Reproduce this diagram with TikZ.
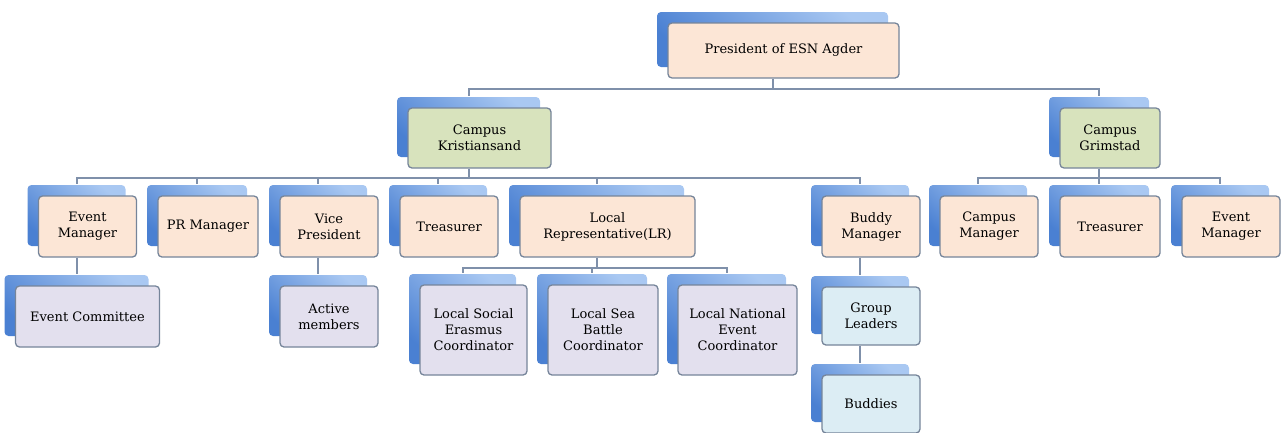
\documentclass[tikz,border=0pt]{standalone}
\usepackage{fontspec}
\setmainfont{DejaVu Serif}
\usetikzlibrary{shadows}

\definecolor{peach}{HTML}{FCE6D6}
\definecolor{sage}{HTML}{D8E3BD}
\definecolor{lilac}{HTML}{E3E0EE}
\definecolor{icy}{HTML}{DCEDF4}
\definecolor{rim}{HTML}{76859A}
\definecolor{wirecol}{HTML}{7F90AA}
\definecolor{backlight}{HTML}{A9C8F2}
\definecolor{backdark}{HTML}{4A80D2}

\tikzset{
  role/.style={draw=rim, line width=1.3pt, rounded corners=4pt, fill=peach,
    minimum width=98pt, minimum height=61pt, inner sep=0pt, align=center,
    font=\fontsize{13}{16}\selectfont,
    general shadow={shadow xshift=-11pt, shadow yshift=11pt,
      top color=backlight, bottom color=backdark, shading angle=-40}},
  campus/.style={role, fill=sage, minimum width=143pt, minimum height=60pt},
  team/.style={role, fill=lilac},
  buddy/.style={role, fill=icy, minimum height=58pt},
  wire/.style={draw=wirecol, line width=2pt},
}

\begin{document}
\begin{tikzpicture}[x=1pt,y=-1pt]
\useasboundingbox (0,0) rectangle (1287,432);

% top
\node[role, minimum width=231pt, minimum height=55pt] (pres) at (783.5,50.5) {President of ESN Agder};
\node[campus] (kri) at (479.5,138) {Campus\\Kristiansand};
\node[campus, minimum width=100pt] (gri) at (1110,138) {Campus\\Grimstad};

% Kristiansand
\node[role] (evm) at (87.5,226.5) {Event\\Manager};
\node[role, minimum width=100pt] (prm) at (208,226.5) {PR Manager};
\node[role] (vp) at (329,226.5) {Vice\\President};
\node[role] (tre) at (449,226.5) {Treasurer};
\node[role, minimum width=175pt] (lr) at (607.5,226.5) {Local\\Representative(LR)};
\node[role] (bud) at (871,226.5) {Buddy\\Manager};

% Grimstad
\node[role] (cmg) at (989,226.5) {Campus\\Manager};
\node[role, minimum width=100pt] (tre2) at (1110,226.5) {Treasurer};
\node[role] (evm2) at (1231,226.5) {Event\\Manager};

% third row
\node[team, minimum width=144pt] (evc) at (87.5,316.5) {Event Committee};
\node[team] (act) at (329,316.5) {Active\\members};
\node[team, minimum width=107pt, minimum height=90pt] (lse) at (473.5,330) {Local Social\\Erasmus\\Coordinator};
\node[team, minimum width=110pt, minimum height=90pt] (lsb) at (603,330) {Local Sea\\Battle\\Coordinator};
\node[team, minimum width=119pt, minimum height=90pt] (lne) at (737.5,330) {Local National\\Event\\Coordinator};
\node[buddy] (grp) at (871,316) {Group\\Leaders};
\node[buddy] (bdd) at (871,404) {Buddies};

% connectors
\draw[wire] ([xshift=-11pt]pres.south) -- ++(0,10) coordinate (topbus);
\foreach \n in {kri,gri}
  \draw[wire] (topbus) -| ([xshift=-11pt,yshift=11pt]\n.north);

\draw[wire] ([xshift=-11pt]kri.south) -- ++(0,9) coordinate (kribus);
\foreach \n in {evm,prm,vp,tre,lr,bud}
  \draw[wire] (kribus) -| ([xshift=-11pt,yshift=11pt]\n.north);

\draw[wire] ([xshift=-11pt]gri.south) -- ++(0,9) coordinate (gribus);
\foreach \n in {cmg,tre2,evm2}
  \draw[wire] (gribus) -| ([xshift=-11pt,yshift=11pt]\n.north);

\draw[wire] ([xshift=-11pt]lr.south) -- ++(0,10) coordinate (lrbus);
\foreach \n in {lse,lsb,lne}
  \draw[wire] (lrbus) -| ([xshift=-11pt,yshift=11pt]\n.north);

\draw[wire] ([xshift=-11pt]evm.south) -- ([xshift=-11pt,yshift=11pt]evc.north);
\draw[wire] ([xshift=-11pt]vp.south) -- ([xshift=-11pt,yshift=11pt]act.north);
\draw[wire] ([xshift=-11pt]bud.south) -- ([xshift=-11pt,yshift=11pt]grp.north);
\draw[wire] ([xshift=-11pt]grp.south) -- ([xshift=-11pt,yshift=11pt]bdd.north);
\end{tikzpicture}
\end{document}
